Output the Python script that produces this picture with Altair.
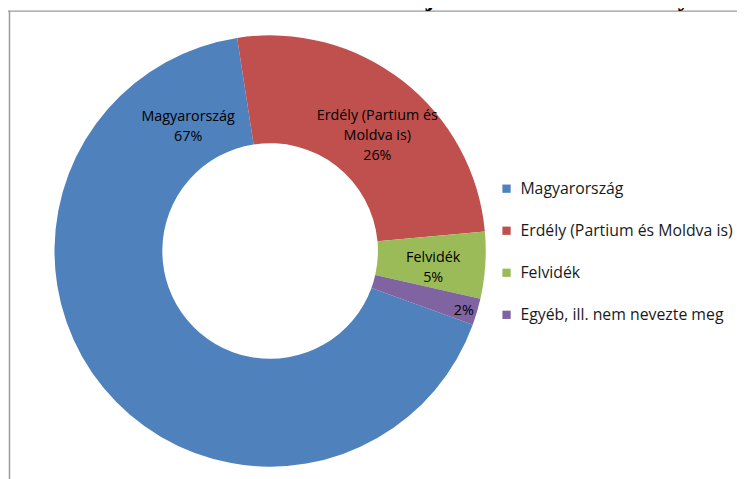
import math
import altair as alt
import pandas as pd

# ---- data ----
categories = ["Magyarország", "Erdély (Partium és Moldva is)", "Felvidék", "Egyéb, ill. nem nevezte meg"]
values = [67, 26, 5, 2]
label_texts = ["Magyarország\n67%", "Erdély (Partium és\nMoldva is)\n26%", "Felvidék\n5%", "2%"]
colors = ["#4F81BD", "#C0504D", "#9BBB59", "#8064A2"]
title_text = "9.ábra: A diákok által már járt iskolák területi helye"

# stacked positions derived from the values
ends = []
acc = 0
for v in values:
    acc += v
    ends.append(acc)
starts = [e - v for e, v in zip(ends, values)]
mids = [s + v / 2 for s, v in zip(starts, values)]
total = sum(values)

df = pd.DataFrame({
    "cat": categories,
    "value": values,
    "start": starts,
    "end": ends,
    "mid": mids,
    "label": label_texts,
    "idx": list(range(len(values))),
})

start_angle = math.radians(110)
theta_scale = alt.Scale(domain=[0, total], range=[start_angle, start_angle + 2 * math.pi])
color_scale = alt.Scale(domain=categories, range=colors)

FONT = "Open Sans"

arcs = alt.Chart(df).mark_arc(innerRadius=109, outerRadius=218).encode(
    theta=alt.Theta("start:Q", scale=theta_scale),
    theta2="end:Q",
    color=alt.Color(
        "cat:N",
        scale=color_scale,
        sort=categories,
        legend=alt.Legend(
            title=None,
            orient="none",
            legendX=496,
            legendY=172,
            symbolType="square",
            symbolSize=70,
            symbolStrokeWidth=0,
            labelFont=FONT,
            labelFontSize=16,
            labelColor="#1a1a1a",
            labelOffset=6,
            rowPadding=26.5,
            labelLimit=400,
        ),
    ),
)

# per-label placement (radius, angular offset in radians) like Excel's best fit
# (anchor is the first text line)
label_specs = [
    (categories[0], 159, 1.710),
    (categories[1], 174, 0.009),
    (categories[2], 165, -0.024),
    (categories[3], 205, 0.014),
]

label_layers = []
for cat, r, off in label_specs:
    label_layers.append(
        alt.Chart(df)
        .transform_filter(alt.datum.cat == cat)
        .mark_text(
            radius=r,
            thetaOffset=off,
            font=FONT,
            fontSize=14.5,
            lineHeight=20,
            lineBreak="\n",
            color="#000000",
            align="center",
            baseline="middle",
        )
        .encode(theta=alt.Theta("mid:Q", scale=theta_scale), text="label:N")
    )

one = pd.DataFrame({"a": [0]})
left_rule = alt.Chart(one).mark_rule(color="#9a9a9a", strokeWidth=1.5).encode(
    x=alt.value(1.5), y=alt.value(0), y2=alt.value(486)
)
top_rule = alt.Chart(one).mark_rule(color="#9a9a9a", strokeWidth=1.5).encode(
    x=alt.value(0), x2=alt.value(737), y=alt.value(0.5)
)

title = alt.Chart(pd.DataFrame({"t": [title_text]})).mark_text(
    font="Liberation Serif", fontWeight="bold", fontSize=26, align="center", baseline="alphabetic"
).encode(x=alt.value(412), y=alt.value(-5), text="t:N")

chart = (
    alt.layer(arcs, *label_layers, left_rule, top_rule, title)
    .properties(
        width=530,
        height=486,
        autosize=alt.AutoSizeParams(type="none"),
        padding={"left": 0, "top": 0, "right": 207, "bottom": 0},
        background="white",
    )
    .configure_view(stroke=None)
)

chart.save("out.html", embed_options={"renderer": "svg", "actions": False})
